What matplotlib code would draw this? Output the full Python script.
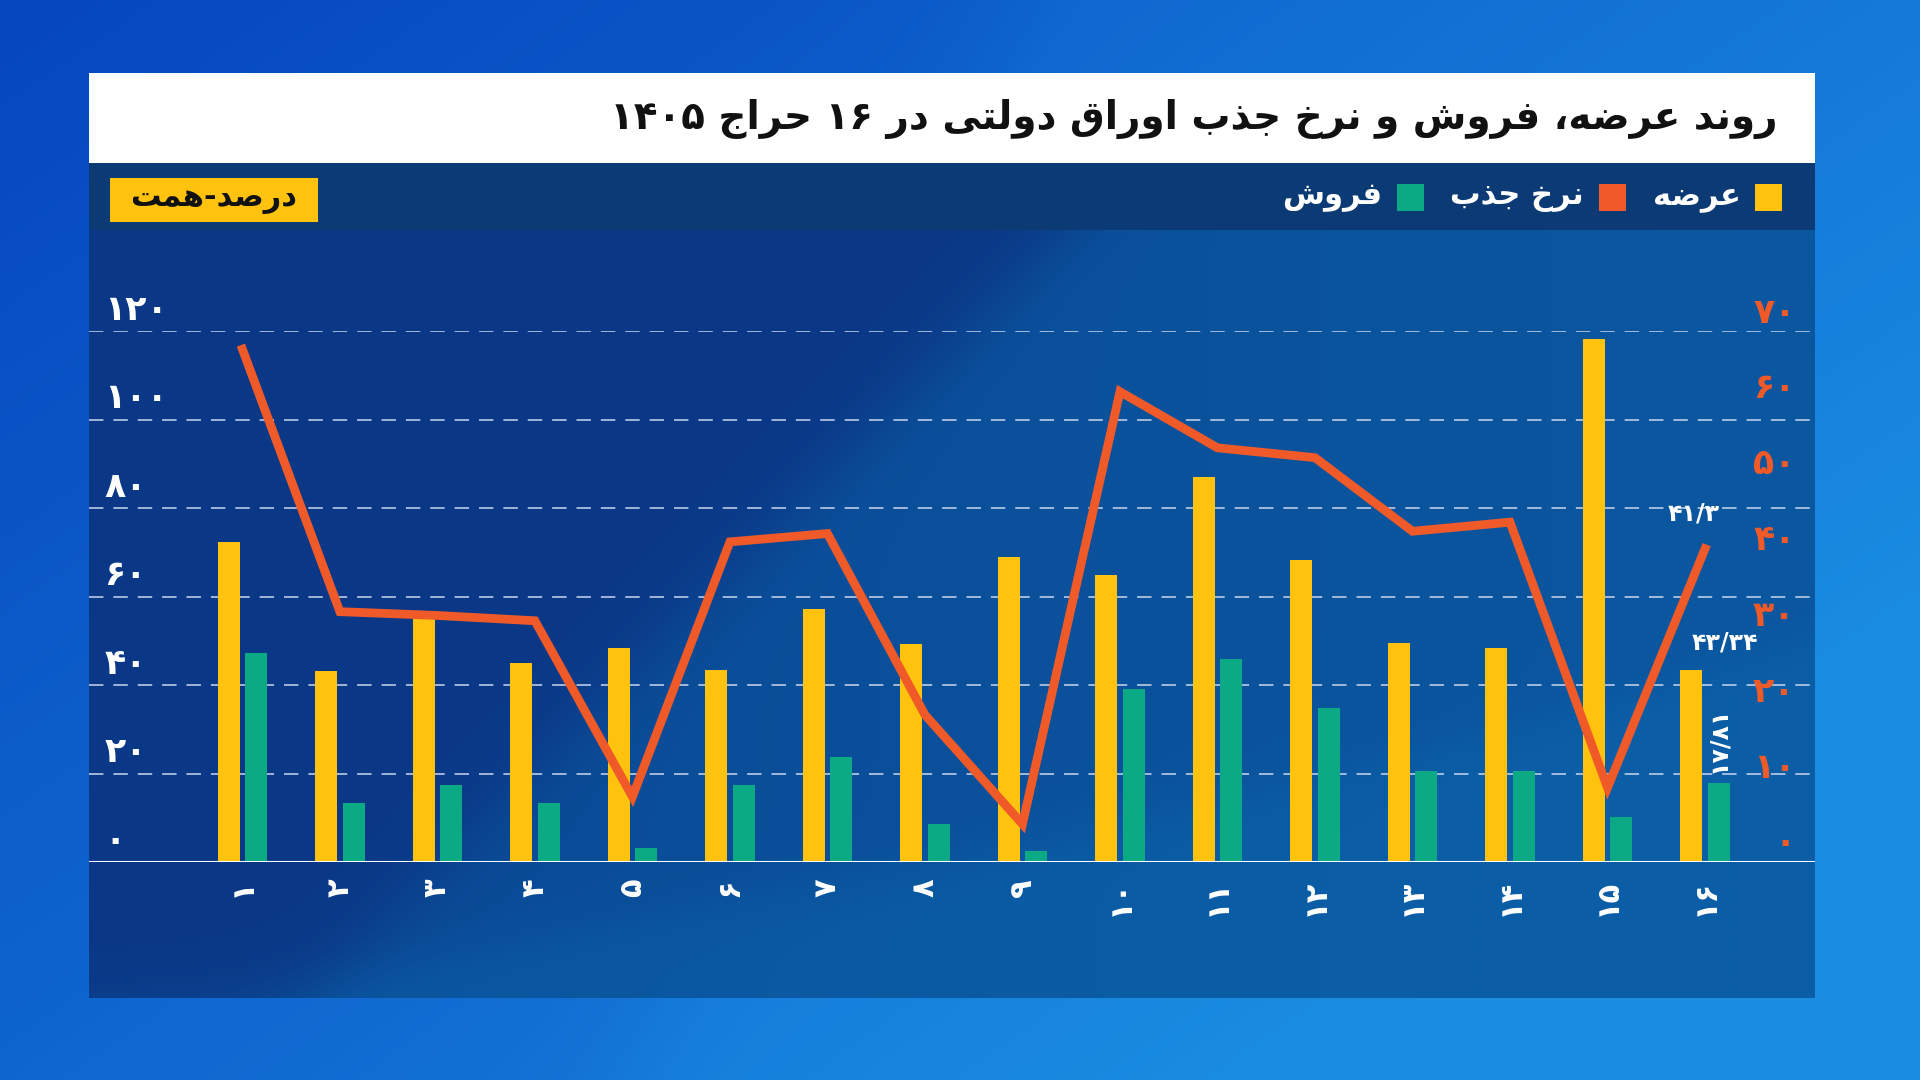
import re
import numpy as np
import matplotlib
matplotlib.use("Agg")
import matplotlib.pyplot as plt
import matplotlib.transforms as mtransforms
from matplotlib.patches import Rectangle
from matplotlib.colors import to_rgb

# data
auctions = list(range(1, 17))
supply = [72.3, 43.2, 55.5, 44.9, 48.3, 43.4, 57.1, 49.2, 68.9, 64.8, 87.1, 68.2, 49.4, 48.3, 118.2, 43.34]
sales = [47.2, 13.4, 17.3, 13.4, 3.2, 17.4, 23.7, 8.6, 2.5, 39.0, 45.8, 34.8, 20.6, 20.6, 10.1, 17.81]
absorption = [67.6, 33.0, 32.5, 31.8, 8.6, 42.2, 43.3, 19.4, 5.0, 62.0, 54.6, 53.3, 43.6, 44.8, 9.8, 41.3]
left_ticks = [0, 20, 40, 60, 80, 100, 120]
right_ticks = [0, 10, 20, 30, 40, 50, 60, 70]

TITLE = "روند عرضه، فروش و نرخ جذب اوراق دولتی در ۱۶ حراج ۱۴۰۵"
UNIT = "درصد-همت"
LEGEND = [("عرضه", "#FFC20E"), ("نرخ جذب", "#F05A28"), ("فروش", "#0BAA85")]

YELLOW = "#FFC20E"
GREEN = "#0BAA85"
ORANGE = "#F05A28"

W, H = 1920, 1080
FONT = "DejaVu Sans"

# --- tiny arabic/persian shaper (matplotlib has no RTL shaping) ---
FORMS = {
    "ا": ("\uFE8D", "\uFE8E", None, None),
    "ب": ("\uFE8F", "\uFE90", "\uFE91", "\uFE92"),
    "ت": ("\uFE95", "\uFE96", "\uFE97", "\uFE98"),
    "ج": ("\uFE9D", "\uFE9E", "\uFE9F", "\uFEA0"),
    "ح": ("\uFEA1", "\uFEA2", "\uFEA3", "\uFEA4"),
    "خ": ("\uFEA5", "\uFEA6", "\uFEA7", "\uFEA8"),
    "د": ("\uFEA9", "\uFEAA", None, None),
    "ذ": ("\uFEAB", "\uFEAC", None, None),
    "ر": ("\uFEAD", "\uFEAE", None, None),
    "ش": ("\uFEB5", "\uFEB6", "\uFEB7", "\uFEB8"),
    "ص": ("\uFEB9", "\uFEBA", "\uFEBB", "\uFEBC"),
    "ض": ("\uFEBD", "\uFEBE", "\uFEBF", "\uFEC0"),
    "ع": ("\uFEC9", "\uFECA", "\uFECB", "\uFECC"),
    "ف": ("\uFED1", "\uFED2", "\uFED3", "\uFED4"),
    "ق": ("\uFED5", "\uFED6", "\uFED7", "\uFED8"),
    "ل": ("\uFEDD", "\uFEDE", "\uFEDF", "\uFEE0"),
    "م": ("\uFEE1", "\uFEE2", "\uFEE3", "\uFEE4"),
    "ن": ("\uFEE5", "\uFEE6", "\uFEE7", "\uFEE8"),
    "ه": ("\uFEE9", "\uFEEA", "\uFEEB", "\uFEEC"),
    "و": ("\uFEED", "\uFEEE", None, None),
    "ی": ("\uFBFC", "\uFBFD", "\uFBFE", "\uFBFF"),
}


def shape(text):
    out = []
    for i, ch in enumerate(text):
        f = FORMS.get(ch)
        if f is None:
            out.append(ch)
            continue
        prev = text[i - 1] if i > 0 else ""
        nxt = text[i + 1] if i + 1 < len(text) else ""
        join_prev = prev in FORMS and FORMS[prev][2] is not None
        join_next = f[2] is not None and nxt in FORMS
        if join_prev and join_next:
            out.append(f[3])
        elif join_prev:
            out.append(f[1])
        elif join_next:
            out.append(f[2])
        else:
            out.append(f[0])
    s = "".join(out)[::-1]
    return re.sub(r"[0-9\u06F0-\u06F9/]+", lambda m: m.group(0)[::-1], s)


def fa(v):
    return str(v).replace(".", "/").translate(str.maketrans("0123456789", "۰۱۲۳۴۵۶۷۸۹"))


def mix(c1, c2, t):
    a, b = np.array(to_rgb(c1)), np.array(to_rgb(c2))
    t = np.clip(t, 0, 1)[..., None]
    return a * (1 - t) + b * t


fig = plt.figure(figsize=(W / 100, H / 100), dpi=100)

# background layer in pixel coordinates
bg = fig.add_axes([0, 0, 1, 1], zorder=-5)
bg.set_xlim(0, W)
bg.set_ylim(H, 0)
bg.axis("off")

yy, xx = np.mgrid[0:H:4, 0:W:4]
t = 0.55 * xx / W + 0.45 * yy / H
t = t + 0.18 / (1 + np.exp(-(xx + 0.35 * yy - 1000) / 40))
outer = mix("#0646BF", "#1A8DE2", t)
bg.imshow(outer, extent=[0, W, H, 0], aspect="auto", zorder=0)

# white title band and navy legend band
bg.add_patch(Rectangle((89, 73), 1726, 90, facecolor="white", edgecolor="none", zorder=1))
bg.add_patch(Rectangle((89, 163), 1726, 67, facecolor="#0C3A74", edgecolor="none", zorder=1))

# chart panel gradient
py, px = np.mgrid[0:768:3, 0:1726:3]
u = px / 1726
v = py / 768
band = 1 / (1 + np.exp(-(u - (0.566 - 0.44 * v)) / 0.015))
tp = 0.15 + 0.35 * band + 0.35 * band * u
curve = 1 / (1 + np.exp(-((v - 1.0) + 0.45 * u ** 1.3) / 0.02))
tp = tp + 0.25 * curve
panel = mix("#0A3282", "#0B5EA6", tp)
bg.imshow(panel, extent=[89, 1815, 998, 230], aspect="auto", zorder=1)

# title
fig.text(1778 / W, 1 - 119 / H, shape(TITLE), ha="right", va="center",
         fontsize=28, fontweight="bold", color="#111111", family=FONT)

# unit box
bg.add_patch(Rectangle((110, 178), 208, 44, facecolor=YELLOW, edgecolor="none", zorder=2))
bg.text(214, 200, shape(UNIT), ha="center", va="center", fontsize=22,
        fontweight="bold", color="#111111", family=FONT, zorder=3)

# legend (right to left)
legend_sq = [1755, 1599, 1397]
legend_tx = [1741, 1584, 1382]
for (lab, col), sx, tx in zip(LEGEND, legend_sq, legend_tx):
    bg.add_patch(Rectangle((sx, 184), 27, 27, facecolor=col, edgecolor="none", zorder=2))
    bg.text(tx, 197, shape(lab), ha="right", va="center", fontsize=22,
            fontweight="bold", color="white", family=FONT, zorder=3)

# main axes
ax = fig.add_axes([89 / W, 1 - 862 / H, 1726 / W, (862 - 331) / H])
ax.set_facecolor("none")
for s in ax.spines.values():
    s.set_visible(False)

x = np.array(auctions, dtype=float)
ax.set_xlim(-0.573, 17.128)
ax.set_ylim(0, 120)

bw = 0.225
ax.bar(x - 0.14, supply, width=bw, color=YELLOW, zorder=3)
ax.bar(x + 0.14, sales, width=bw, color=GREEN, zorder=3)

for val in left_ticks[1:]:
    ax.axhline(val, color="#C9D6EE", lw=1.3, ls=(0, (8, 5.5)), alpha=0.85, zorder=1)
ax.axhline(0, color="white", lw=2.2, zorder=4)

ax.set_xticks(x, [fa(a) for a in auctions], rotation=90, fontsize=22,
              fontweight="bold", color="white", family=FONT, va="top")
ax.tick_params(axis="x", length=0, pad=12)

ax.set_yticks(left_ticks, [fa(v) for v in left_ticks], fontsize=25,
              fontweight="bold", color="white", family=FONT)
ax.tick_params(axis="y", length=0, pad=-11)
off_left = mtransforms.ScaledTranslation(0, 25 / 100, fig.dpi_scale_trans)
for lab in ax.get_yticklabels():
    lab.set_horizontalalignment("left")
    lab.set_transform(lab.get_transform() + off_left)

ax2 = ax.twinx()
ax2.set_ylim(0, 70)
for s in ax2.spines.values():
    s.set_visible(False)
ax2.plot(x, absorption, color=ORANGE, lw=6.3, solid_joinstyle="miter", zorder=5)
ax2.set_yticks(right_ticks, [fa(v) for v in right_ticks], fontsize=25,
               fontweight="bold", color=ORANGE, family=FONT)
ax2.tick_params(axis="y", length=0, pad=-14)
off_right = mtransforms.ScaledTranslation(0, 22 / 100, fig.dpi_scale_trans)
for lab in ax2.get_yticklabels():
    lab.set_horizontalalignment("right")
    lab.set_transform(lab.get_transform() + off_right)

# value labels for the last auction
ax2.annotate(fa(absorption[-1]), (x[-1], absorption[-1]), xytext=(-8, 25),
             textcoords="offset points", ha="center", va="center", fontsize=17,
             fontweight="bold", color="white", family=FONT)
ax.annotate(fa(supply[-1]), (x[-1] - 0.14, supply[-1]), xytext=(24, 20),
            textcoords="offset points", ha="center", va="center", fontsize=17,
            fontweight="bold", color="white", family=FONT)
ax.annotate(fa(sales[-1]), (x[-1] + 0.14, sales[-1]), xytext=(0, 31),
            textcoords="offset points", ha="center", va="center", rotation=90,
            fontsize=17, fontweight="bold", color="white", family=FONT)

fig.savefig("out.png", dpi=100)
